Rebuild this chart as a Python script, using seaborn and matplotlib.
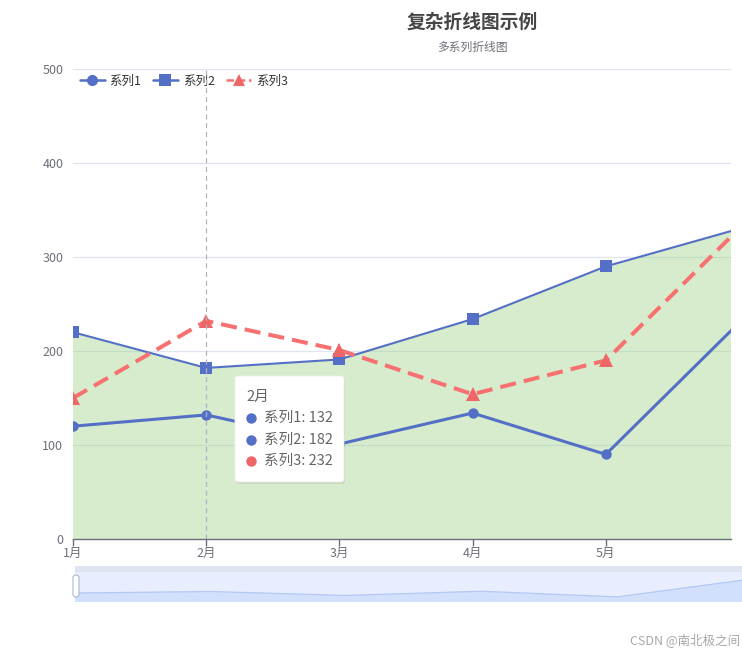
import numpy as np
import matplotlib
matplotlib.use('Agg')
import matplotlib.pyplot as plt
import seaborn as sns
from matplotlib.patches import FancyBboxPatch, Rectangle
from matplotlib.lines import Line2D

# Chart data
months = ['1月', '2月', '3月', '4月', '5月', '6月', '7月']
series1 = [120, 132, 101, 134, 90, 230, 210]
series2 = [220, 182, 191, 234, 290, 330, 310]
series3 = [150, 232, 201, 154, 190, 330, 410]
series_names = ['系列1', '系列2', '系列3']
y_ticks = [0, 100, 200, 300, 400, 500]
hover_idx = 1  # tooltip shown for 2月

sns.set_theme(style='white')
plt.rcParams['font.family'] = ['Noto Sans CJK SC', 'DejaVu Sans']

W, H = 742, 654
fig = plt.figure(figsize=(W / 100, H / 100), dpi=100)


def fx(px):
    return px / W


def fy(py):
    return 1 - py / H


blue = '#5470c6'
red = '#ee6666'
red_line = '#f87171'
green = '#91cc75'
axis_gray = '#6e7079'
grid_c = '#e0e6f1'

# main plot area: 0 at y=539px, 500 at y=69px, 1月 at x=73px, step 133.2px
ax = fig.add_axes([fx(73), fy(539), fx(731) - fx(73), fy(69) - fy(539)])
x = np.arange(len(months))

ax.fill_between(x, series2, 0, color=green, alpha=0.36, lw=0, zorder=1)
for v in y_ticks[1:]:
    ax.axhline(v, color=grid_c, lw=0.9, zorder=0.5)

sns.lineplot(x=x, y=series2, ax=ax, color=blue, lw=1.5, marker='s',
             markersize=9, markeredgewidth=0, label=series_names[1], zorder=3)
sns.lineplot(x=x, y=series1, ax=ax, color=blue, lw=2.2, marker='o',
             markersize=7.5, markeredgewidth=0, label=series_names[0], zorder=4)
sns.lineplot(x=x, y=series3, ax=ax, color=red_line, lw=2.9, marker='^',
             markersize=10.5, markerfacecolor=red, markeredgewidth=0,
             label=series_names[2], zorder=5)
ax.lines[-1].set_dashes((4, 2))

ax.axvline(x[hover_idx], color='#aeb2c2', lw=0.9, ls=(0, (4, 3)), zorder=6)

ax.set_xlim(0, (731 - 73) / 133.2)
ax.set_ylim(0, 500)
ax.set_yticks(y_ticks)
ax.set_xticks(x[:5])
ax.set_xticklabels(months[:5])
for s in ['top', 'right', 'left']:
    ax.spines[s].set_visible(False)
ax.spines['bottom'].set_color(axis_gray)
ax.spines['bottom'].set_linewidth(1)
ax.spines['bottom'].set_zorder(7)
ax.tick_params(axis='y', length=0, pad=7, labelsize=9, labelcolor=axis_gray)
ax.tick_params(axis='x', length=5, width=1, color=axis_gray, pad=1,
               labelsize=9, labelcolor=axis_gray, bottom=True)
ax.set_xlabel('')
ax.set_ylabel('')

# legend
h1 = Line2D([], [], color=blue, lw=1.8, marker='o', markersize=8, markeredgewidth=0)
h2 = Line2D([], [], color=blue, lw=1.8, marker='s', markersize=8, markeredgewidth=0)
h3 = Line2D([], [], color=red_line, lw=1.8, dashes=(3, 1.5), marker='^',
            markersize=9, markerfacecolor=red, markeredgewidth=0)
ax.legend([h1, h2, h3], series_names, loc='upper left', ncol=3,
          bbox_to_anchor=((74 - 73) / (731 - 73), 1.0),
          frameon=False, fontsize=9, handlelength=2.0, handletextpad=0.4,
          columnspacing=0.9, borderaxespad=0.05, labelcolor='#333333')

# title
fig.text(fx(472), fy(22), '复杂折线图示例', ha='center', va='center',
         fontsize=13.5, fontweight='bold', color='#464646')
fig.text(fx(472), fy(47), '多系列折线图', ha='center', va='center',
         fontsize=8.5, color='#6e7079')

# tooltip
tx0, ty0, tw, th = 235, 376, 109, 106
shadow = FancyBboxPatch((fx(tx0 + 1), fy(ty0 + th + 2)), fx(tw), fy(0) - fy(th),
                        boxstyle='round,pad=0,rounding_size=0.005',
                        transform=fig.transFigure, fc='#000000', alpha=0.08,
                        ec='none', zorder=9)
box = FancyBboxPatch((fx(tx0), fy(ty0 + th)), fx(tw), fy(0) - fy(th),
                     boxstyle='round,pad=0,rounding_size=0.005',
                     transform=fig.transFigure, fc='white', ec='#eeeeee',
                     lw=0.6, zorder=10)
fig.add_artist(shadow)
fig.add_artist(box)
fig.text(fx(246), fy(397), months[hover_idx], ha='left', va='center',
         fontsize=10.5, color='#666666', zorder=11)
rows = [(series_names[0], series1, blue), (series_names[1], series2, blue),
        (series_names[2], series3, red)]
for i, (nm, vals, c) in enumerate(rows):
    yy = 418 + i * 21.5
    fig.add_artist(Line2D([fx(251)], [fy(yy)], marker='o', markersize=7.5,
                          color=c, markeredgewidth=0, transform=fig.transFigure,
                          zorder=11))
    fig.text(fx(264), fy(yy), f'{nm}: {vals[hover_idx]}', ha='left',
             va='center', fontsize=10.5, color='#666666', zorder=11)

# data zoom slider
fig.add_artist(Rectangle((fx(75), fy(572)), fx(742) - fx(75), fy(566) - fy(572),
                         transform=fig.transFigure, fc='#dfe4f1', ec='none'))
sax = fig.add_axes([fx(75), fy(602), fx(888) - fx(75), fy(572) - fy(602)])
sax.set_facecolor('#e8eefd')
sax.fill_between(x, series1, 0, color='#d2e0fb', lw=0)
sns.lineplot(x=x, y=series1, ax=sax, color='#b3c9f5', lw=0.9)
sax.set_xlim(0, len(months) - 1)
sax.set_ylim(50, 284)
sax.set_xticks([])
sax.set_yticks([])
sax.set_xlabel('')
sax.set_ylabel('')
for s in sax.spines.values():
    s.set_visible(False)
handle = FancyBboxPatch((fx(73), fy(597)), fx(6), fy(575) - fy(597),
                        boxstyle='round,pad=0,rounding_size=0.004',
                        transform=fig.transFigure, fc='white', ec='#acb8d1',
                        lw=0.8, zorder=5)
fig.add_artist(handle)

# watermark
fig.text(fx(740), fy(640), 'CSDN @南北极之间', ha='right', va='center',
         fontsize=9, color='#a8a8a8')

fig.savefig('out.png', dpi=100)
